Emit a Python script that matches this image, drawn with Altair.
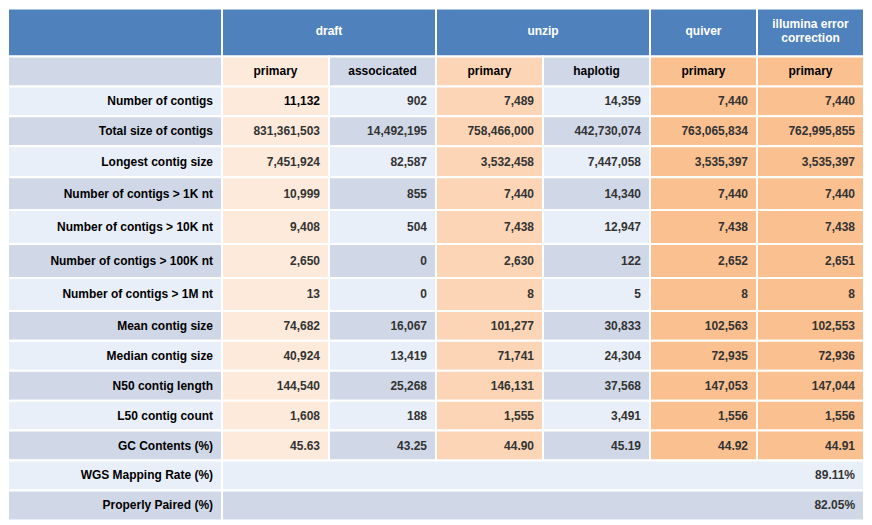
import altair as alt
import pandas as pd

# ---------------- data ----------------
row_labels = [
    "Number of contigs", "Total size of contigs", "Longest contig size",
    "Number of contigs > 1K nt", "Number of contigs > 10K nt",
    "Number of contigs > 100K nt", "Number of contigs > 1M nt",
    "Mean contig size", "Median contig size", "N50 contig length",
    "L50 contig count", "GC Contents (%)",
    "WGS Mapping Rate (%)", "Properly Paired (%)",
]
groups = ["draft", "unzip", "quiver", "illumina error\ncorrection"]
group_spans = [2, 2, 1, 1]
subheaders = ["primary", "associcated", "primary", "haplotig", "primary", "primary"]

draft_primary = [11132, 831361503, 7451924, 10999, 9408, 2650, 13, 74682, 40924, 144540, 1608, 45.63]
draft_assoc = [902, 14492195, 82587, 855, 504, 0, 0, 16067, 13419, 25268, 188, 43.25]
unzip_primary = [7489, 758466000, 3532458, 7440, 7438, 2630, 8, 101277, 71741, 146131, 1555, 44.90]
unzip_haplotig = [14359, 442730074, 7447058, 14340, 12947, 122, 5, 30833, 24304, 37568, 3491, 45.19]
quiver_primary = [7440, 763065834, 3535397, 7440, 7438, 2652, 8, 102563, 72935, 147053, 1556, 44.92]
illumina_primary = [7440, 762995855, 3535397, 7440, 7438, 2651, 8, 102553, 72936, 147044, 1556, 44.91]
mapping_rates = [89.11, 82.05]

columns = [draft_primary, draft_assoc, unzip_primary, unzip_haplotig, quiver_primary, illumina_primary]

# ---------------- layout / style ----------------
BLUE = "#4F81BD"
LIGHT = "#E9EFF8"
DARK = "#D0D8E8"
PEACH1 = "#FDEADA"
PEACH2 = "#FBD5B5"
PEACH3 = "#FAC090"
col_kind = ["p1", "b", "p2", "b", "p3", "p3"]
kind_color = {"p1": PEACH1, "p2": PEACH2, "p3": PEACH3}

header_heights = [48, 30]
row_heights = [30, 30, 31, 33, 34, 34, 33, 30, 30, 30, 30, 30, 30, 30]
label_units = 2
total_units = label_units + len(subheaders)
W, H = 858, sum(header_heights) + sum(row_heights)

def fmt(v):
    if isinstance(v, float):
        return f"{v:.2f}"
    return f"{v:,}"

cells = []
def add(x0, x1, y0, y1, fill, text="", tcolor="#000", align="right", kind="body"):
    cells.append(dict(x0=x0, x1=x1, y0=y0, y1=y1, fill=fill, text=text,
                      tcolor=tcolor, align=align, kind=kind,
                      xm=(x0 + x1) / 2, ym=(y0 + y1) / 2))

# header row 1
y = 0
h = header_heights[0]
add(0, label_units, y, y + h, BLUE)
x = label_units
for g, s in zip(groups, group_spans):
    add(x, x + s, y, y + h, BLUE, g, "#FFFFFF", "center",
        "head2" if "\n" in g else "head1")
    x += s
y += h
# header row 2
h = header_heights[1]
add(0, label_units, y, y + h, DARK)
for i, sname in enumerate(subheaders):
    k = col_kind[i]
    add(label_units + i, label_units + i + 1, y, y + h, kind_color.get(k, DARK),
        sname, "#000", "center", "sub")
y += h
# data rows
n_vals = len(draft_primary)
for r, lab in enumerate(row_labels):
    h = row_heights[r]
    band = LIGHT if r % 2 == 0 else DARK
    add(0, label_units, y, y + h, band, lab, "#000", "right")
    if r < n_vals:
        for i, col in enumerate(columns):
            k = col_kind[i]
            tc = "#000" if (r == 0 and i == 0) else "#333333"
            add(label_units + i, label_units + i + 1, y, y + h,
                kind_color.get(k, band), fmt(col[r]), tc, "right")
    else:
        add(label_units, total_units, y, y + h, band,
            f"{mapping_rates[r - n_vals]:.2f}%", "#333333", "right")
    y += h

df = pd.DataFrame(cells)

xs = alt.Scale(domain=[0, total_units], range=[0, W], nice=False, zero=False)
ys = alt.Scale(domain=[0, H], range=[0, H], nice=False, zero=False)

base = alt.Chart(df)
rects = base.mark_rect(stroke="white", strokeWidth=2).encode(
    x=alt.X("x0:Q", scale=xs, axis=None),
    x2="x1:Q",
    y=alt.Y("y0:Q", scale=ys, axis=None),
    y2="y1:Q",
    color=alt.Color("fill:N", scale=None),
)

font = "Arial, Liberation Sans, sans-serif"
txt_right = base.transform_filter("datum.align == 'right' && datum.text != ''").mark_text(
    align="right", baseline="middle", dx=-9, font=font, fontSize=12, fontWeight="bold"
).encode(
    x=alt.X("x1:Q", scale=xs, axis=None),
    y=alt.Y("ym:Q", scale=ys, axis=None),
    text="text:N",
    color=alt.Color("tcolor:N", scale=None),
)
txt_center = base.transform_filter("datum.kind == 'sub'").mark_text(
    align="center", baseline="middle", font=font, fontSize=12, fontWeight="bold"
).encode(
    x=alt.X("xm:Q", scale=xs, axis=None),
    y=alt.Y("ym:Q", scale=ys, axis=None),
    text="text:N",
    color=alt.Color("tcolor:N", scale=None),
)
txt_head1 = base.transform_filter("datum.kind == 'head1'").mark_text(
    align="center", baseline="middle", font=font, fontSize=12, fontWeight="bold", dy=-2
).encode(
    x=alt.X("xm:Q", scale=xs, axis=None),
    y=alt.Y("ym:Q", scale=ys, axis=None),
    text="text:N",
    color=alt.Color("tcolor:N", scale=None),
)
txt_head2 = base.transform_filter("datum.kind == 'head2'").mark_text(
    align="center", baseline="middle", font=font, fontSize=12, fontWeight="bold",
    lineBreak="\n", lineHeight=14, dy=-9
).encode(
    x=alt.X("xm:Q", scale=xs, axis=None),
    y=alt.Y("ym:Q", scale=ys, axis=None),
    text="text:N",
    color=alt.Color("tcolor:N", scale=None),
)

chart = alt.layer(rects, txt_right, txt_center, txt_head1, txt_head2).properties(
    width=W, height=H, padding=0, autosize="none"
).configure_view(stroke=None)

chart.save("out.html", embed_options={"renderer": "svg", "actions": False})
